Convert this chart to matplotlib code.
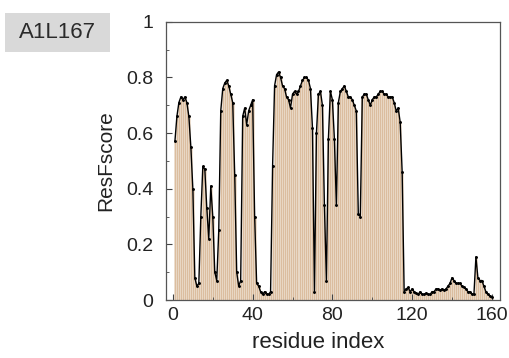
import numpy as np
import matplotlib.pyplot as plt
from matplotlib.patches import Rectangle
from matplotlib.ticker import MultipleLocator

plt.rcParams['font.family'] = ['Liberation Sans', 'DejaVu Sans']

# ResFscore por residuo (1..160)
residuos = np.arange(1, 161)
score = [
    0.57, 0.66, 0.71, 0.73, 0.72, 0.73, 0.71, 0.66, 0.55, 0.40,
    0.08, 0.05, 0.06, 0.30, 0.48, 0.47, 0.33, 0.22, 0.41, 0.30,
    0.10, 0.07, 0.25, 0.68, 0.76, 0.78, 0.79, 0.77, 0.74, 0.71,
    0.45, 0.10, 0.05, 0.07, 0.66, 0.69, 0.63, 0.68, 0.70, 0.72,
    0.30, 0.06, 0.05, 0.03, 0.02, 0.03, 0.02, 0.02, 0.03, 0.48,
    0.77, 0.81, 0.82, 0.80, 0.77, 0.76, 0.73, 0.72, 0.69, 0.74,
    0.75, 0.74, 0.75, 0.77, 0.79, 0.80, 0.80, 0.79, 0.76, 0.62,
    0.03, 0.60, 0.74, 0.75, 0.70, 0.34, 0.07, 0.58, 0.75, 0.72,
    0.58, 0.34, 0.71, 0.75, 0.76, 0.77, 0.75, 0.73, 0.73, 0.72,
    0.70, 0.68, 0.31, 0.30, 0.73, 0.74, 0.74, 0.72, 0.70, 0.72,
    0.73, 0.73, 0.74, 0.75, 0.75, 0.74, 0.74, 0.73, 0.73, 0.73,
    0.71, 0.68, 0.69, 0.64, 0.46, 0.03, 0.04, 0.045, 0.03, 0.04,
    0.03, 0.025, 0.02, 0.03, 0.02, 0.02, 0.025, 0.02, 0.02, 0.03,
    0.03, 0.04, 0.04, 0.035, 0.04, 0.035, 0.04, 0.05, 0.06, 0.08,
    0.07, 0.06, 0.06, 0.06, 0.05, 0.045, 0.04, 0.03, 0.03, 0.02,
    0.02, 0.155, 0.08, 0.07, 0.07, 0.05, 0.03, 0.02, 0.015, 0.01,
]
etiqueta = "A1L167"
xticks = [0, 40, 80, 120, 160]
yticks = [0, 0.2, 0.4, 0.6, 0.8, 1]
yticklabels = ["0", "0.2", "0.4", "0.6", "0.8", "1"]

fig = plt.figure(figsize=(5.09, 3.58), dpi=100)
ax = fig.add_axes([0.326, 0.162, 0.656, 0.777])

ax.bar(residuos, score, width=1.0, color='#dbbd9f', edgecolor='#eddfd0', linewidth=0.4)
ax.plot(residuos, score, color='black', linewidth=1.0, marker='.', markersize=2.2)

ax.set_xlim(-3.5, 164)
ax.set_ylim(0, 1)
ax.set_xticks(xticks)
ax.set_yticks(yticks)
ax.set_yticklabels(yticklabels)
ax.yaxis.set_minor_locator(MultipleLocator(0.1))
ax.xaxis.set_minor_locator(MultipleLocator(20))
ax.tick_params(direction='in', which='both', labelsize=14, colors='#444444', labelcolor='#222222')
ax.tick_params(which='major', length=4)
ax.tick_params(which='minor', length=2)
ax.tick_params(axis='x', pad=5)
ax.tick_params(axis='y', pad=9)
for s in ax.spines.values():
    s.set_color('#555555')
    s.set_linewidth(0.9)

ax.set_xlabel("residue index", fontsize=16, color='#222222', labelpad=0)
ax.xaxis.set_label_coords(0.455, -0.115)
ax.set_ylabel("ResFscore", fontsize=15, color='#222222', labelpad=8)

# recuadro gris con el identificador
fig.add_artist(Rectangle((0.0098, 0.855), 0.206, 0.109, transform=fig.transFigure,
                         facecolor='#d9d9d9', edgecolor='none'))
fig.text(0.113, 0.909, etiqueta, fontsize=16, color='#2a2a2a', ha='center', va='center')

fig.savefig('out.png', dpi=100)
